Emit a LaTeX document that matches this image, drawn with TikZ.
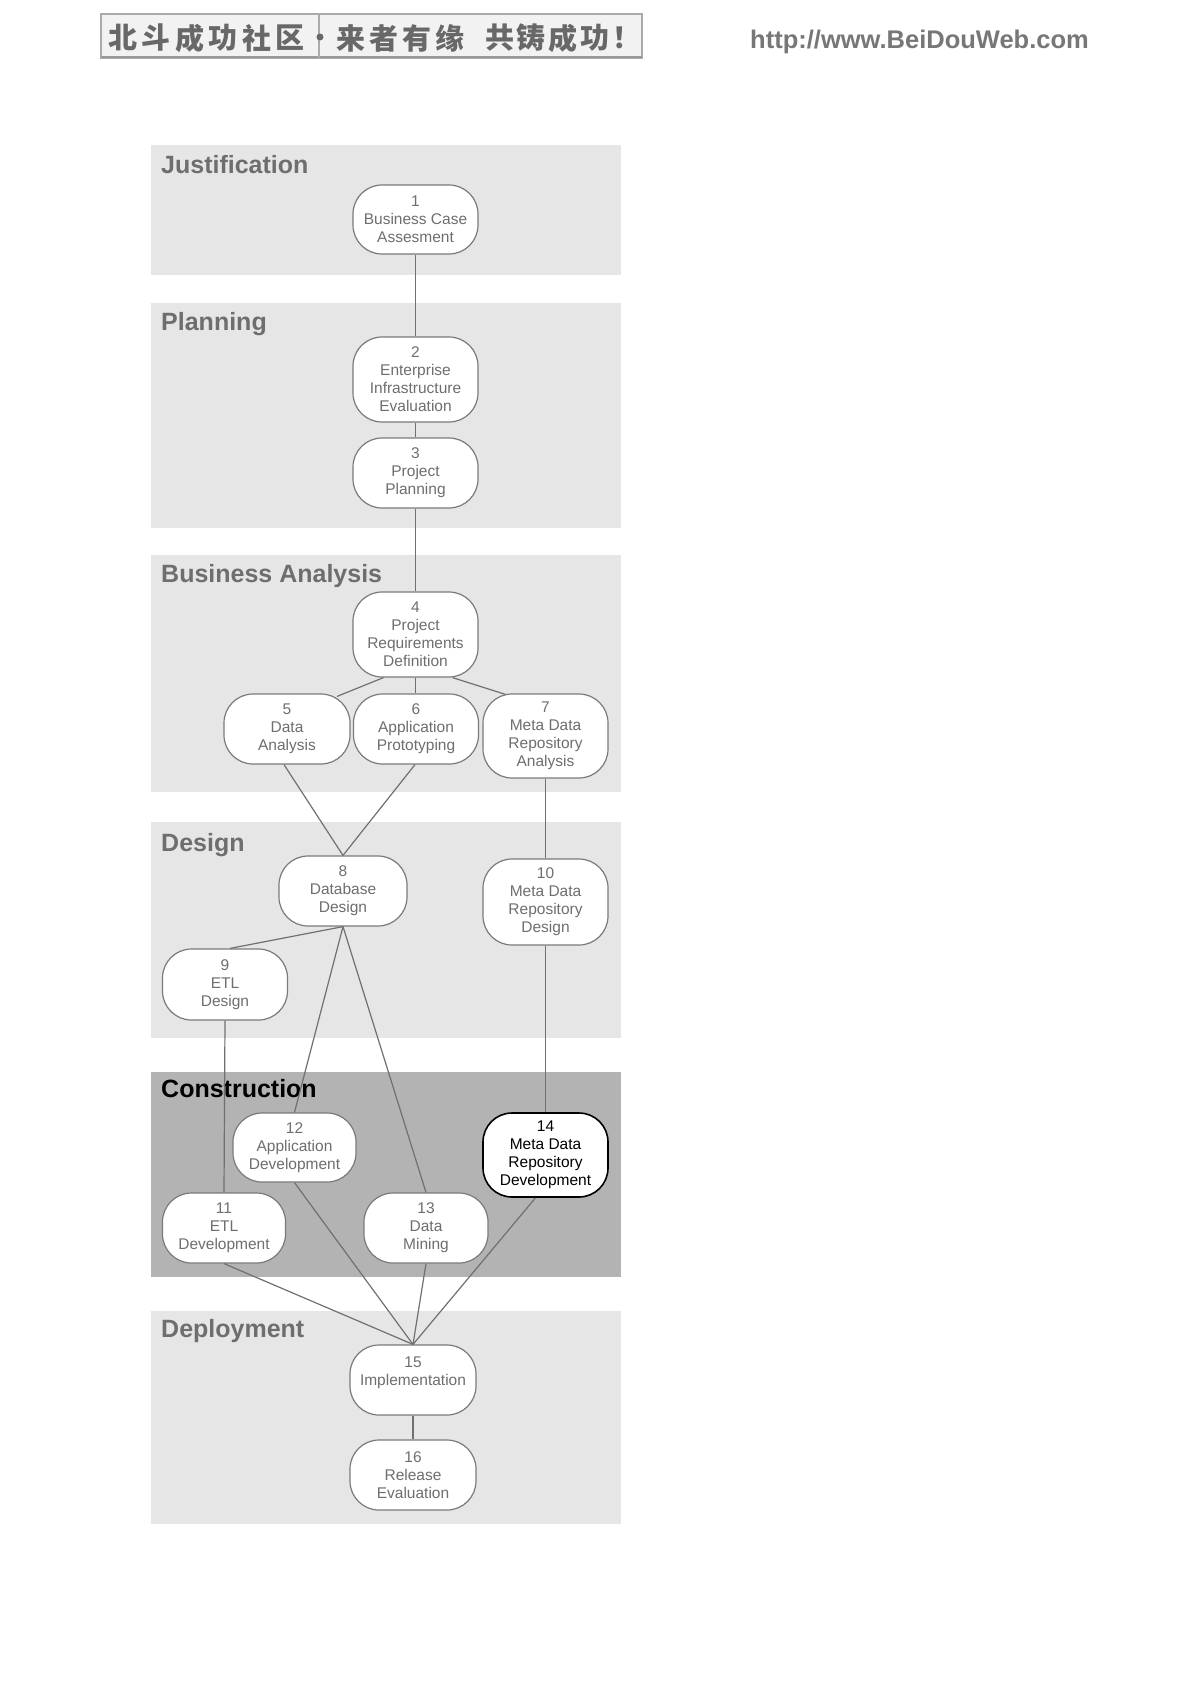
\documentclass[tikz,border=0pt]{standalone}
\usepackage{fontspec}
\setmainfont{Liberation Sans}
\newfontfamily\cjkfont{Noto Sans CJK SC}
\definecolor{band}{HTML}{E6E6E6}
\definecolor{bandc}{HTML}{B3B3B3}
\definecolor{txt}{HTML}{6E6E6E}
\definecolor{bord}{HTML}{7A7A7A}
\definecolor{edgec}{HTML}{707070}
\definecolor{hdrfill}{HTML}{F2F2F2}
\definecolor{hdrline}{HTML}{AAAAAA}
\definecolor{hdrtxt}{HTML}{686868}
\definecolor{urltxt}{HTML}{777777}
\tikzset{
  bandbox/.style={fill=band, draw=none},
  bandtitle/.style={anchor=base west, inner sep=0pt, text=txt,
    font=\bfseries\fontsize{25}{30}\selectfont},
  stepnode/.style={draw=bord, line width=1.2pt, fill=white, rounded corners=29pt,
    minimum width=125pt, minimum height=70pt, inner sep=0pt, align=center,
    text=txt, font=\fontsize{15.5}{18}\selectfont},
  boldnode/.style={stepnode, draw=black, line width=1.6pt, text=black},
  conn/.style={draw=edgec, line width=1.2pt},
  hdrchar/.style={inner sep=0pt, text=hdrtxt, font=\cjkfont\bfseries\fontsize{29}{32}\selectfont}
}
\begin{document}
\begin{tikzpicture}[x=1pt,y=-1pt]
\useasboundingbox (0,0) rectangle (1190,1684);
\fill[white] (0,0) rectangle (1190,1684);

% header
\draw[fill=hdrfill, draw=hdrline, line width=1.5pt] (101,14) rectangle (642,58);
\draw[draw=hdrline!90!black, line width=2.5pt] (101,57) -- (642,57);
\draw[draw=hdrline, line width=1.2pt] (319,14) -- (319,58);
\fill[hdrtxt] (320,37) circle (3.5);
\foreach \c [count=\i from 0] in {北,斗,成,功,社,区}
  \node[hdrchar] (ha\i) at (122.5+33.5*\i,38) {\c};
\foreach \c [count=\i from 0] in {来,者,有,缘}
  \node[hdrchar] (hb\i) at (350.5+33*\i,38) {\c};
\foreach \c [count=\i from 0] in {共,铸,成,功,！}
  \node[hdrchar] (hc\i) at (499.5+31.75*\i,38) {\c};
\node[anchor=base west, inner sep=0pt, text=urltxt,
  font=\bfseries\fontsize{25.5}{30}\selectfont] (url) at (750,48) {http://www.BeiDouWeb.com};

% bands
\fill[band] (151,145) rectangle (621,275);
\fill[band] (151,303) rectangle (621,528);
\fill[band] (151,555) rectangle (621,792);
\fill[band] (151,822) rectangle (621,1038);
\fill[bandc] (151,1072) rectangle (621,1277);
\fill[band] (151,1311) rectangle (621,1524);

\node[bandtitle] (tj) at (161,173) {Justification};
\node[bandtitle] (tp) at (161,330) {Planning};
\node[bandtitle] (tb) at (161,582) {Business Analysis};
\node[bandtitle] (td) at (161,851) {Design};
\node[bandtitle, text=black] (tc) at (161,1097) {Construction};
\node[bandtitle] (tdp) at (161,1337) {Deployment};

% nodes
\node[stepnode, minimum height=69pt] (n1) at (415.5,219.5) {1\\Business Case\\Assesment};
\node[stepnode, minimum height=85pt] (n2) at (415.5,379.5) {2\\Enterprise\\Infrastructure\\Evaluation};
\node[stepnode] (n3) at (415.5,473) {3\\Project\\Planning};
\node[stepnode, minimum height=85pt] (n4) at (415.5,634.5) {4\\Project\\Requirements\\Definition};
\node[stepnode, minimum width=126pt] (n5) at (287,729) {5\\Data\\Analysis};
\node[stepnode] (n6) at (416,729) {6\\Application\\Prototyping};
\node[stepnode, minimum height=84pt] (n7) at (545.5,736) {7\\Meta Data\\Repository\\Analysis};
\node[stepnode, minimum width=128pt] (n8) at (343,891) {8\\Database\\Design};
\node[stepnode, minimum height=86pt] (n10) at (545.5,902) {10\\Meta Data\\Repository\\Design};
\node[stepnode, minimum height=71pt] (n9) at (225,984.5) {9\\ETL\\Design};
\node[stepnode, minimum width=123pt, minimum height=69pt] (n12) at (294.5,1147.5) {12\\Application\\Development};
\node[boldnode, minimum height=84pt] (n14) at (545.5,1155) {14\\Meta Data\\Repository\\Development};
\node[stepnode, minimum width=123pt] (n11) at (224,1228) {11\\ETL\\Development};
\node[stepnode, minimum width=124pt] (n13) at (426,1228) {13\\Data\\Mining};
\node[stepnode, minimum width=126pt] (n15) at (413,1380) {15\\Implementation\\\mbox{}};
\node[stepnode, minimum width=126pt] (n16) at (413,1475) {16\\Release\\Evaluation};

% connectors
\draw[conn] (n1.south) -- (n2.north);
\draw[conn] (n2.south) -- (n3.north);
\draw[conn] (n3.south) -- (n4.north);
\draw[conn] ([xshift=-32pt]n4.south) -- ([xshift=50pt,yshift=-3pt]n5.north);
\draw[conn] (n4.south) -- (n4.south |- n6.north);
\draw[conn] ([xshift=37pt]n4.south) -- ([xshift=-40pt,yshift=-1pt]n7.north);
\draw[conn] ([xshift=-3pt]n5.south) -- (n8.north);
\draw[conn] ([xshift=-1pt]n6.south) -- (n8.north);
\draw[conn] (n7.south) -- (n10.north);
\draw[conn] (n8.south) -- ([xshift=5pt]n9.north);
\draw[conn] (n8.south) -- (n12.north);
\draw[conn] (n8.south) -- (n13.north);
\draw[conn] (n9.south) -- (n11.north);
\draw[conn] (n10.south) -- (n14.north);
\draw[conn] (n11.south) -- (n15.north);
\draw[conn] (n12.south) -- (n15.north);
\draw[conn] (n13.south) -- (n15.north);
\draw[conn] ([xshift=-10pt]n14.south) -- (n15.north);
\draw[conn] (n15.south) -- (n16.north);
\end{tikzpicture}
\end{document}
